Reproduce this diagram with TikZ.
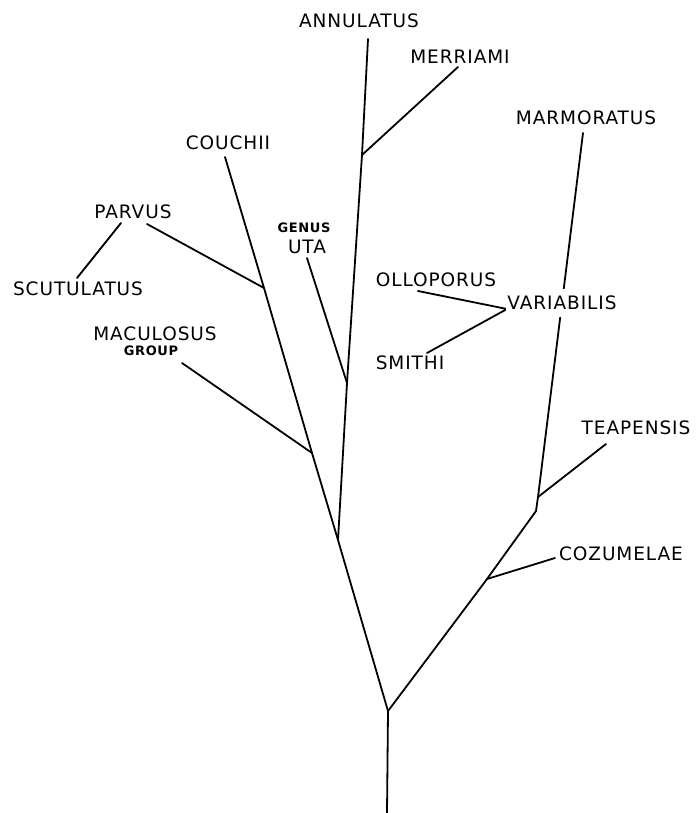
\documentclass[tikz,border=0pt]{standalone}
\usepackage{fontspec}
\newfontfamily\labfont[LetterSpace=5]{DejaVu Sans}
\usetikzlibrary{positioning}
\tikzset{
  br/.style={line width=1.8pt,line cap=round,line join=round},
  lab/.style={font=\labfont\fontsize{18.5}{18.5}\selectfont,inner sep=0pt},
  sml/.style={font=\labfont\bfseries\fontsize{13}{13}\selectfont,inner sep=0pt}
}
\begin{document}
\begin{tikzpicture}[x=1pt,y=-1pt]
\useasboundingbox (0,0) rectangle (696,813);
% forks and free ends of the branches
\foreach \n/\x/\y in {base/387/813,fork/388/711,jUta/338/540,jMac/312/453,jParv/264/288,tCou/225/157,
  jUtaB/347/383,jMerr/362/155,tAnn/368/39,tMerr/458/67,tUta/307/258,tParvA/147/224,tParvB/121/223,
  tScut/77/278,tMac/182/363,jCoz/487/579,jBend/536/511,jTea/538/497,tMar/583/133,tCoz/555/558,
  tTea/606/444,jVar/507/309,tOll/418/291,tSmi/427/353}
  \coordinate (\n) at (\x,\y);
% trunks
\draw[br] (base) -- (fork) -- (jUta) -- (jMac) -- (jParv) -- (tCou);
\draw[br] (jUta) -- (jUtaB) -- (jMerr) -- (tAnn);
\draw[br] (fork) -- (jCoz) -- (jBend) -- (jTea) -- (tMar);
% side branches
\draw[br] (jMerr) -- (tMerr);
\draw[br] (jUtaB) -- (tUta);
\draw[br] (jParv) -- (tParvA);
\draw[br] (tParvB) -- (tScut);
\draw[br] (jMac) -- (tMac);
\draw[br] (jCoz) -- (tCoz);
\draw[br] (jTea) -- (tTea);
\draw[br] (tOll) -- (jVar) -- (tSmi);
% names
\foreach \n/\x/\y/\t in {annulatus/359/21/ANNULATUS,merriami/460/57/MERRIAMI,marmoratus/586/118/MARMORATUS,
  couchii/228/143/COUCHII,parvus/133/212/PARVUS,scutulatus/78/289/SCUTULATUS,uta/307/247/UTA,
  olloporus/436/280/OLLOPORUS,smithi/410/363/SMITHI,maculosus/155/334/MACULOSUS,
  teapensis/636/428/TEAPENSIS,cozumelae/621/554/COZUMELAE}
  \node[lab] (\n) at (\x,\y) {\t};
\node[lab,fill=white,inner ysep=7pt,inner xsep=1.5pt] (variabilis) at (562,303) {VARIABILIS};
\node[sml] (genus) at (304,228) {GENUS};
\node[sml] (group) at (151,351) {GROUP};
\end{tikzpicture}
\end{document}
